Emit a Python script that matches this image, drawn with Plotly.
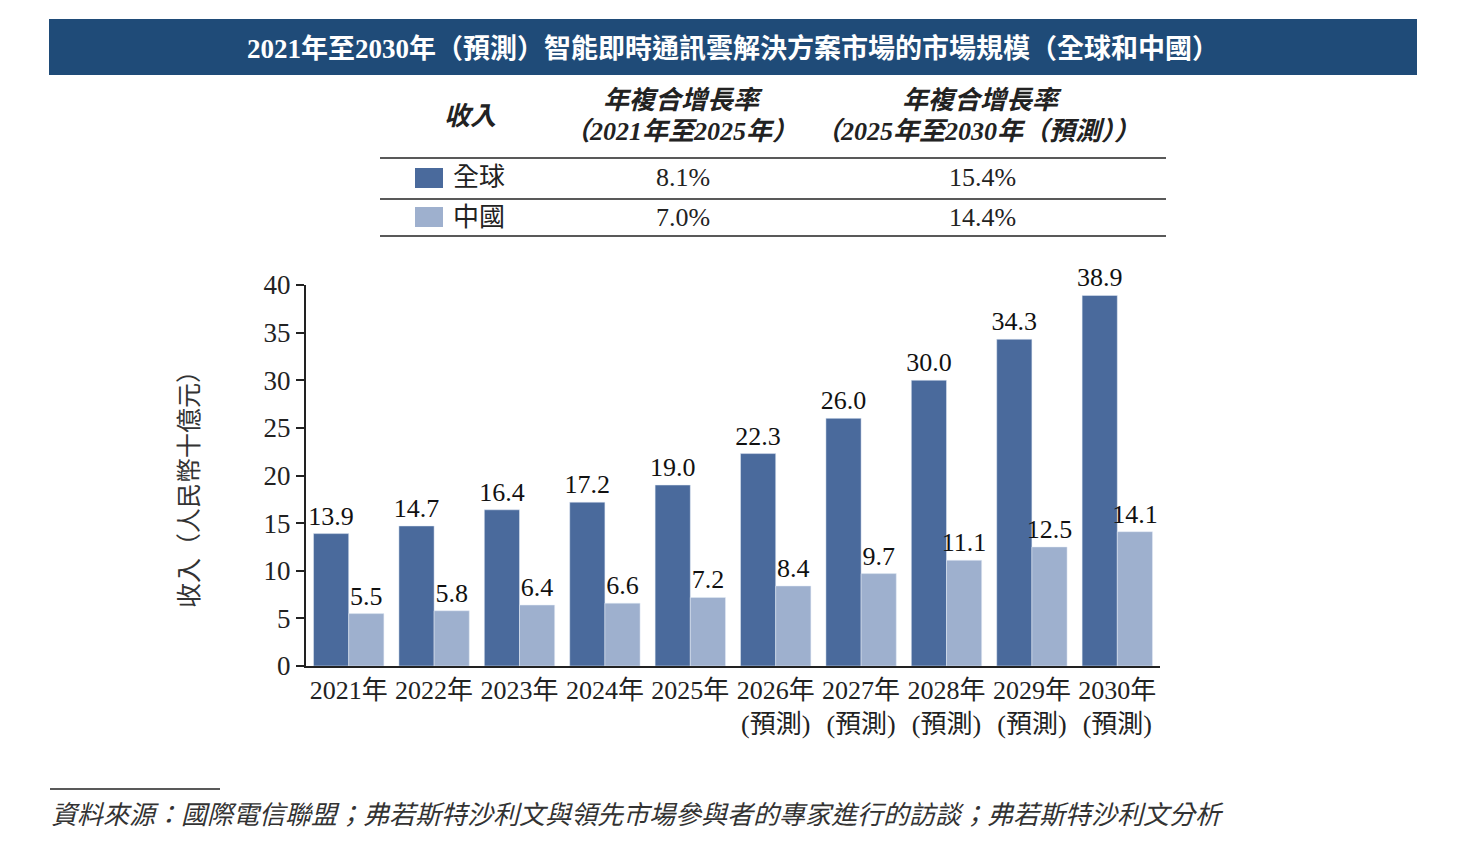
import plotly.graph_objects as go

years = ["2021年", "2022年", "2023年", "2024年", "2025年",
         "2026年<br>(預測)", "2027年<br>(預測)", "2028年<br>(預測)", "2029年<br>(預測)", "2030年<br>(預測)"]
global_vals = [13.9, 14.7, 16.4, 17.2, 19.0, 22.3, 26.0, 30.0, 34.3, 38.9]
china_vals = [5.5, 5.8, 6.4, 6.6, 7.2, 8.4, 9.7, 11.1, 12.5, 14.1]
series_names = ["全球", "中國"]
cagr_2125 = ["8.1%", "7.0%"]
cagr_2530 = ["15.4%", "14.4%"]
y_ticks = [0, 5, 10, 15, 20, 25, 30, 35, 40]

title = "2021年至2030年（預測）智能即時通訊雲解決方案市場的市場規模（全球和中國）"
source = "資料來源：國際電信聯盟；弗若斯特沙利文與領先市場參與者的專家進行的訪談；弗若斯特沙利文分析"

DARK = "#4A6A9C"
LIGHT = "#9EB0CE"
BANNER = "#1F4B78"
SERIF = "Liberation Serif, 'Noto Sans CJK TC', serif"
CJK = "'Noto Sans CJK TC', sans-serif"

W, H = 1465, 850
L, R, T, B = 306, 1160, 285, 666


def px(x):
    return (x - L) / (R - L)


def py(y):
    return (B - y) / (B - T)


fig = go.Figure()
for vals, name, col in [(global_vals, series_names[0], DARK), (china_vals, series_names[1], LIGHT)]:
    fig.add_trace(go.Bar(x=years, y=vals, name=name, marker_color=col,
                         text=[f"{v:.1f}" for v in vals], textposition="outside",
                         constraintext="none",
                         textfont=dict(family=SERIF, size=26, color="#111"), cliponaxis=False))

shapes = []
annotations = []

# Title banner
shapes.append(dict(type="rect", xref="paper", yref="paper", x0=px(49), x1=px(1417), y0=py(19), y1=py(75),
                   fillcolor=BANNER, line=dict(width=0), layer="below"))
annotations.append(dict(xref="paper", yref="paper", x=px(733), y=py(48), text="<b>" + title + "</b>",
                        showarrow=False, font=dict(family=SERIF, size=27, color="white"),
                        xanchor="center", yanchor="middle"))

# Table
for yy in [158, 199, 236]:
    shapes.append(dict(type="line", xref="paper", yref="paper", x0=px(380), x1=px(1166), y0=py(yy), y1=py(yy),
                       line=dict(color="#222", width=1.5)))
hdr_font = dict(family=SERIF, size=26, color="#222")
annotations.append(dict(xref="paper", yref="paper", x=px(470), y=py(116), text="<b><i>收入</i></b>",
                        showarrow=False, font=hdr_font, xanchor="center", yanchor="middle"))
annotations.append(dict(xref="paper", yref="paper", x=px(683), y=py(100), text="<b><i>年複合增長率</i></b>",
                        showarrow=False, font=hdr_font, xanchor="center", yanchor="middle"))
annotations.append(dict(xref="paper", yref="paper", x=px(681), y=py(131), text="<b><i>（2021年至2025年）</i></b>",
                        showarrow=False, font=hdr_font, xanchor="center", yanchor="middle"))
annotations.append(dict(xref="paper", yref="paper", x=px(982), y=py(100), text="<b><i>年複合增長率</i></b>",
                        showarrow=False, font=hdr_font, xanchor="center", yanchor="middle"))
annotations.append(dict(xref="paper", yref="paper", x=px(977), y=py(131), text="<b><i>（2025年至2030年（預測））</i></b>",
                        showarrow=False, font=hdr_font, xanchor="center", yanchor="middle"))
row_y = [178, 217]
colors = [DARK, LIGHT]
for i in range(2):
    yc = row_y[i]
    shapes.append(dict(type="rect", xref="paper", yref="paper", x0=px(415), x1=px(443), y0=py(yc - 10), y1=py(yc + 10),
                       fillcolor=colors[i], line=dict(width=0)))
    annotations.append(dict(xref="paper", yref="paper", x=px(451), y=py(yc), text=series_names[i],
                            showarrow=False, font=dict(family=SERIF, size=26, color="#222"),
                            xanchor="left", yanchor="middle"))
    annotations.append(dict(xref="paper", yref="paper", x=px(683), y=py(yc), text=cagr_2125[i],
                            showarrow=False, font=dict(family=SERIF, size=26, color="#222"),
                            xanchor="center", yanchor="middle"))
    annotations.append(dict(xref="paper", yref="paper", x=px(982), y=py(yc), text=cagr_2530[i],
                            showarrow=False, font=dict(family=SERIF, size=26, color="#222"),
                            xanchor="center", yanchor="middle"))

# Y axis title
annotations.append(dict(xref="paper", yref="paper", x=px(187), y=py(483), text="收入（人民幣十億元）",
                        showarrow=False, textangle=-90, font=dict(family=CJK, size=25, color="#333"),
                        xanchor="center", yanchor="middle"))

# Source
shapes.append(dict(type="line", xref="paper", yref="paper", x0=px(50), x1=px(220), y0=py(789), y1=py(789),
                   line=dict(color="#222", width=1.5)))
annotations.append(dict(xref="paper", yref="paper", x=px(49), y=py(812), text="<i>" + source + "</i>",
                        showarrow=False, font=dict(family=CJK, size=26, color="#333"),
                        xanchor="left", yanchor="middle"))

fig.update_layout(
    width=W, height=H,
    margin=dict(l=L, r=W - R, t=T, b=H - B, pad=0),
    paper_bgcolor="white", plot_bgcolor="white",
    barmode="group", bargap=0.176, bargroupgap=0,
    showlegend=False,
    shapes=shapes, annotations=annotations,
    font=dict(family=SERIF, color="#222"),
    xaxis=dict(showline=True, linecolor="#222", linewidth=2, ticks="", showgrid=False,
               tickfont=dict(family=SERIF, size=26, color="#222"), fixedrange=True),
    yaxis=dict(range=[0, 40], tickvals=y_ticks, showline=True, linecolor="#222", linewidth=2,
               ticks="outside", ticklen=8, tickwidth=1.5, tickcolor="#222", showgrid=False, zeroline=False,
               tickfont=dict(family=SERIF, size=27, color="#222"), fixedrange=True),
)

fig.write_html("out.html")
